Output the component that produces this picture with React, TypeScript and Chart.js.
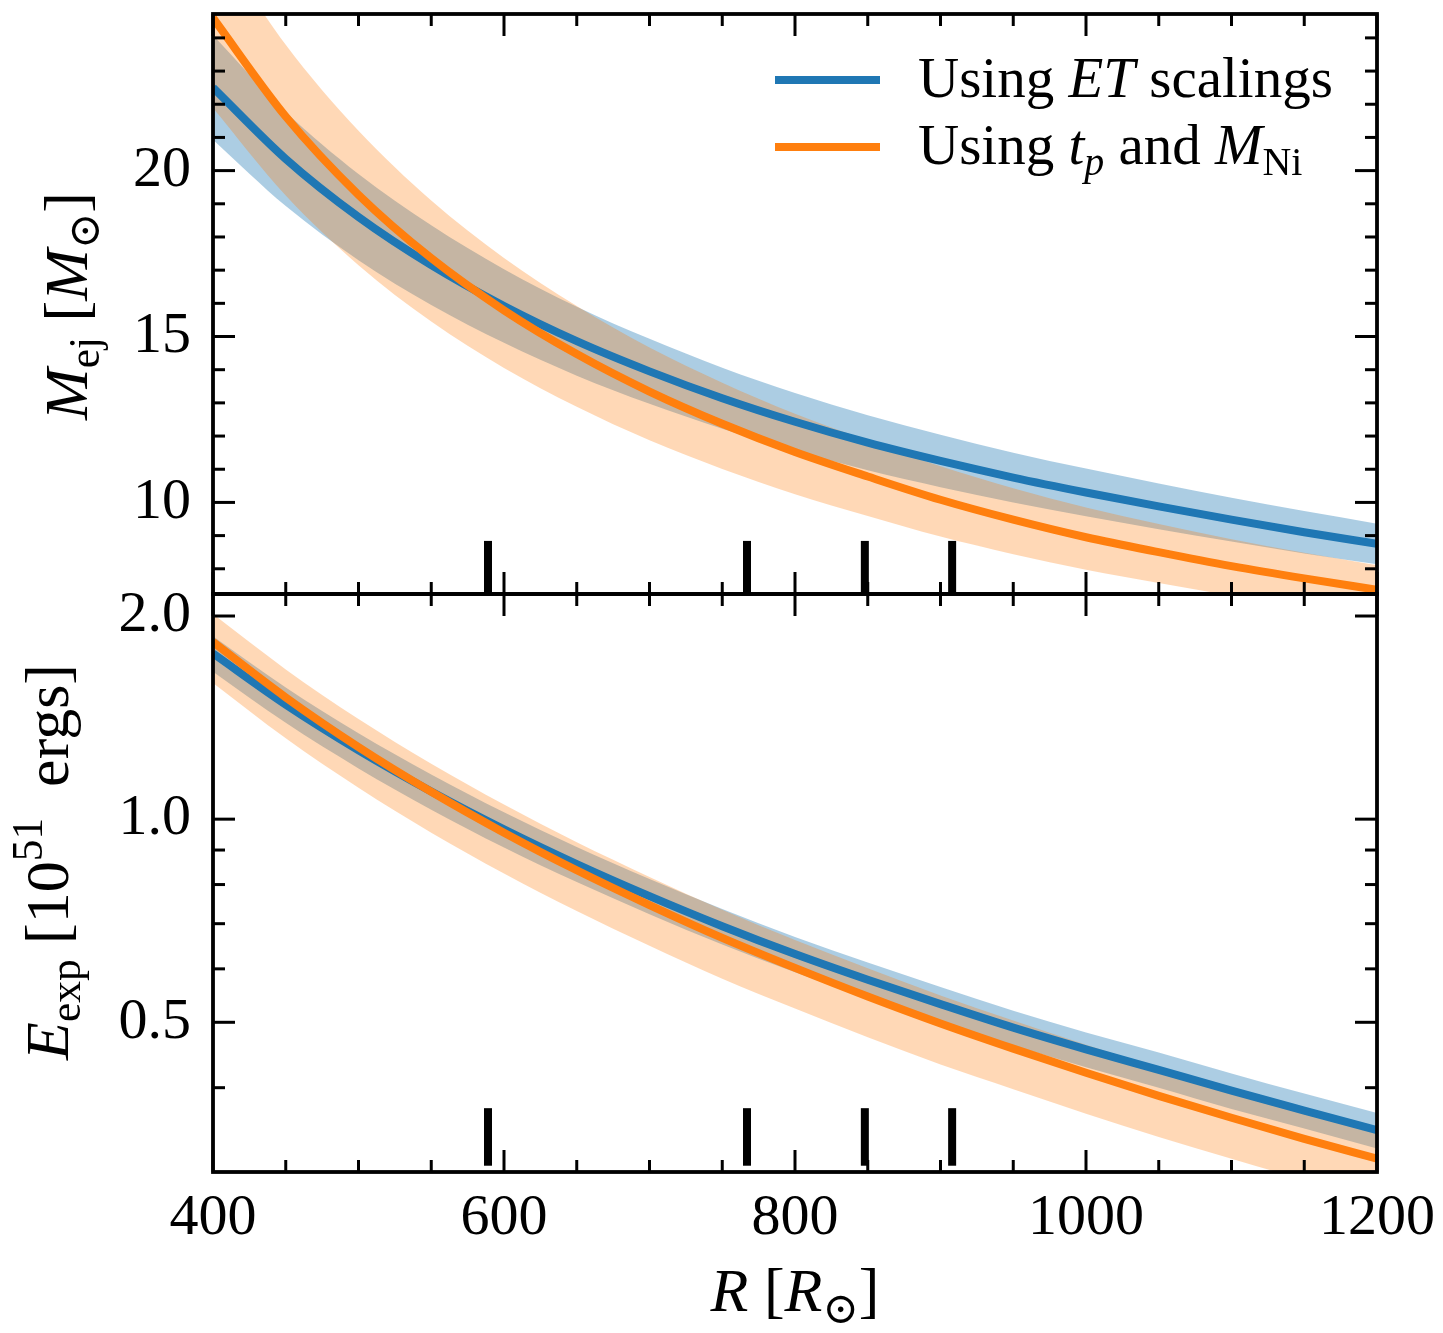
import React, { useEffect, useRef } from "react";
import { Chart, registerables } from "chart.js";

Chart.register(...registerables);

// ---------------- data ----------------
const R_GRID = [400, 450, 500, 550, 600, 650, 700, 750, 800, 850, 900, 950, 1000, 1050, 1100, 1150, 1200];

// Top panel: M_ej [M_sun]
const M_ET = [22.5, 20.35, 18.6, 17.15, 15.92, 14.86, 13.95, 13.14, 12.43, 11.8, 11.25, 10.75, 10.3, 9.88, 9.48, 9.1, 8.75];
const M_ET_HI = [24.08, 21.77, 19.9, 18.35, 17.03, 15.9, 14.93, 14.06, 13.3, 12.63, 12.04, 11.5, 11.02, 10.57, 10.14, 9.74, 9.36];
const M_ET_LO = [20.93, 18.93, 17.3, 15.95, 14.81, 13.82, 12.97, 12.22, 11.56, 10.97, 10.46, 10.0, 9.58, 9.19, 8.82, 8.46, 8.14];
const M_TP = [24.6, 21.63, 19.27, 17.36, 15.79, 14.47, 13.34, 12.37, 11.52, 10.78, 10.08, 9.48, 8.95, 8.5, 8.08, 7.71, 7.37];
const M_TP_HI = [27.06, 23.79, 21.2, 19.1, 17.37, 15.92, 14.67, 13.61, 12.67, 11.86, 11.09, 10.43, 9.85, 9.35, 8.89, 8.48, 8.11];
const M_TP_LO = [21.89, 19.25, 17.15, 15.45, 14.05, 12.88, 11.87, 11.01, 10.25, 9.59, 8.97, 8.44, 7.97, 7.57, 7.19, 6.86, 6.56];

// Bottom panel: E_exp [1e51 ergs]
const E_ET = [1.76, 1.478, 1.265, 1.099, 0.966, 0.858, 0.769, 0.694, 0.631, 0.578, 0.532, 0.491, 0.456, 0.425, 0.396, 0.37, 0.346];
const E_ET_HI = [1.866, 1.567, 1.341, 1.165, 1.024, 0.909, 0.815, 0.736, 0.669, 0.613, 0.564, 0.52, 0.483, 0.451, 0.42, 0.392, 0.367];
const E_ET_LO = [1.654, 1.389, 1.189, 1.033, 0.908, 0.807, 0.723, 0.652, 0.593, 0.543, 0.5, 0.462, 0.429, 0.4, 0.372, 0.348, 0.325];
const E_TP = [1.83, 1.515, 1.279, 1.098, 0.955, 0.84, 0.746, 0.667, 0.602, 0.546, 0.498, 0.457, 0.421, 0.389, 0.361, 0.336, 0.314];
const E_TP_HI = [2.013, 1.667, 1.407, 1.208, 1.051, 0.924, 0.821, 0.734, 0.662, 0.601, 0.548, 0.503, 0.463, 0.428, 0.397, 0.37, 0.345];
const E_TP_LO = [1.592, 1.318, 1.113, 0.955, 0.831, 0.731, 0.649, 0.58, 0.524, 0.475, 0.433, 0.398, 0.366, 0.338, 0.314, 0.292, 0.273];

// rug marks (observed radii)
const RUG_R = [589, 767, 848, 908];
const RUG_TOP_M = 8.84;
const RUG_TOP_E = 0.373;

// axes
const X_RANGE = [400, 1200];
const M_RANGE = [7.24, 24.72];
const E_RANGE = [0.3065, 2.156];
const X_MAJOR = [400, 600, 800, 1000, 1200];
const X_MINOR = [450, 500, 550, 650, 700, 750, 850, 900, 950, 1050, 1100, 1150];
const M_MAJOR = [10, 15, 20];
const M_MINOR = [8, 9, 11, 12, 13, 14, 16, 17, 18, 19, 21, 22, 23, 24];
const E_MAJOR = [0.5, 1.0, 2.0];
const E_MINOR = [0.4, 0.6, 0.7, 0.8, 0.9];

const LEGEND_LABELS = ["Using ET scalings", "Using t_p and M_Ni"];

// ---------------- layout / style ----------------
const W = 1443;
const H = 1333;
const PLOT_LEFT = 213;
const PLOT_RIGHT = 1377;
const PLOT_TOP = 14;
const PLOT_MID = 594;
const PLOT_BOTTOM = 1172;

const FONT = '"Liberation Serif", "DejaVu Serif", "Times New Roman", serif';
const TICK_FONT_SIZE = 58;
const TITLE_SIZE = 62;
const LEGEND_SIZE = 57;

const BLUE = "#1f77b4";
const ORANGE = "#ff7f0e";
const BLUE_FILL = "rgba(31,119,180,0.37)";
const ORANGE_FILL = "rgba(255,127,14,0.30)";

type Run = { t: string; it?: boolean; sub?: boolean; sup?: boolean };

function runFont(r: Run, size: number) {
  const s = r.sub || r.sup ? size * 0.7 : size;
  return `${r.it ? "italic " : ""}${s}px ${FONT}`;
}

function drawRuns(ctx: CanvasRenderingContext2D, runs: Run[], x: number, y: number, size: number, align: "center" | "left") {
  ctx.textAlign = "left";
  ctx.textBaseline = "alphabetic";
  const widths = runs.map((r) => {
    ctx.font = runFont(r, size);
    return ctx.measureText(r.t).width;
  });
  const total = widths.reduce((a, b) => a + b, 0);
  let cx = align === "center" ? x - total / 2 : x;
  runs.forEach((r, i) => {
    ctx.font = runFont(r, size);
    const dy = r.sub ? size * 0.2 : r.sup ? -size * 0.42 : 0;
    ctx.fillText(r.t, cx, y + dy);
    cx += widths[i];
  });
}

const pts = (ys: number[]) => R_GRID.map((r, i) => ({ x: r, y: ys[i] }));

function lineDs(label: string, ys: number[], color: string) {
  return {
    label,
    data: pts(ys),
    borderColor: color,
    backgroundColor: color,
    borderWidth: 8,
    pointRadius: 0,
    fill: false,
    cubicInterpolationMode: "monotone",
  };
}

function bandDs(label: string, ys: number[], color: string, fillNext: boolean) {
  return {
    label,
    data: pts(ys),
    borderColor: "rgba(0,0,0,0)",
    backgroundColor: color,
    borderWidth: 0,
    pointRadius: 0,
    fill: fillNext ? "+1" : false,
    cubicInterpolationMode: "monotone",
  };
}

function rugDs(bottom: number, top: number) {
  return RUG_R.map((r) => ({
    label: "rug",
    data: [
      { x: r, y: bottom },
      { x: r, y: top },
    ],
    borderColor: "#000",
    borderWidth: 8,
    borderCapStyle: "butt",
    pointRadius: 0,
    fill: false,
  }));
}

function framePlugin(kind: "M" | "E") {
  return {
    id: "frame" + kind,
    afterDatasetsDraw(chart: any) {
      const ctx: CanvasRenderingContext2D = chart.ctx;
      const a = chart.chartArea;
      const xs = chart.scales.x;
      const ys = chart.scales.y;
      ctx.save();
      ctx.strokeStyle = "#000";
      ctx.lineCap = "butt";
      ctx.lineWidth = 3;
      const seg = (x1: number, y1: number, x2: number, y2: number) => {
        ctx.beginPath();
        ctx.moveTo(x1, y1);
        ctx.lineTo(x2, y2);
        ctx.stroke();
      };
      const xTicks = (vals: number[], len: number) =>
        vals.forEach((v) => {
          const px = xs.getPixelForValue(v);
          seg(px, a.top, px, a.top + len);
          seg(px, a.bottom, px, a.bottom - len);
        });
      const yTicks = (vals: number[], len: number) =>
        vals.forEach((v) => {
          const py = ys.getPixelForValue(v);
          seg(a.left, py, a.left + len, py);
          seg(a.right, py, a.right - len, py);
        });
      xTicks(X_MAJOR, 22);
      xTicks(X_MINOR, 12);
      if (kind === "M") {
        yTicks(M_MAJOR, 22);
        yTicks(M_MINOR, 12);
      } else {
        yTicks(E_MAJOR, 22);
        yTicks(E_MINOR, 12);
      }
      ctx.lineWidth = 3.8;
      ctx.strokeRect(a.left, a.top, a.right - a.left, a.bottom - a.top);

      ctx.fillStyle = "#000";
      if (kind === "M") {
        // legend
        const lx0 = 775;
        const lx1 = 880;
        const rows = [
          { y: 80, color: BLUE, runs: [{ t: "Using " }, { t: "ET", it: true }, { t: " scalings" }] as Run[] },
          {
            y: 147,
            color: ORANGE,
            runs: [{ t: "Using " }, { t: "t", it: true }, { t: "p", it: true, sub: true }, { t: " and " }, { t: "M", it: true }, { t: "Ni", sub: true }] as Run[],
          },
        ];
        rows.forEach((row) => {
          ctx.strokeStyle = row.color;
          ctx.lineWidth = 8;
          seg(lx0, row.y, lx1, row.y);
          drawRuns(ctx, row.runs, 918, row.y + 17, LEGEND_SIZE, "left");
        });
        // y title
        ctx.save();
        ctx.translate(87, 306);
        ctx.rotate(-Math.PI / 2);
        drawRuns(ctx, [{ t: "M", it: true }, { t: "ej", sub: true }, { t: " [" }, { t: "M", it: true }, { t: "\u2299", sub: true }, { t: "]" }], 0, 0, TITLE_SIZE, "center");
        ctx.restore();
      } else {
        ctx.save();
        ctx.translate(68, 862);
        ctx.rotate(-Math.PI / 2);
        drawRuns(ctx, [{ t: "E", it: true }, { t: "exp", sub: true }, { t: " [10" }, { t: "51", sup: true }, { t: "  ergs]" }], 0, 0, TITLE_SIZE, "center");
        ctx.restore();
        drawRuns(ctx, [{ t: "R", it: true }, { t: " [" }, { t: "R", it: true }, { t: "\u2299", sub: true }, { t: "]" }], (PLOT_LEFT + PLOT_RIGHT) / 2, 1311, TITLE_SIZE, "center");
      }
      ctx.restore();
    },
  };
}

function makeConfig(kind: "M" | "E"): any {
  const isM = kind === "M";
  const range = isM ? M_RANGE : E_RANGE;
  const datasets = isM
    ? [
        ...rugDs(M_RANGE[0], RUG_TOP_M),
        lineDs(LEGEND_LABELS[1], M_TP, ORANGE),
        lineDs(LEGEND_LABELS[0], M_ET, BLUE),
        bandDs("tp hi", M_TP_HI, ORANGE_FILL, true),
        bandDs("tp lo", M_TP_LO, ORANGE_FILL, false),
        bandDs("et hi", M_ET_HI, BLUE_FILL, true),
        bandDs("et lo", M_ET_LO, BLUE_FILL, false),
      ]
    : [
        ...rugDs(E_RANGE[0], RUG_TOP_E),
        lineDs(LEGEND_LABELS[1], E_TP, ORANGE),
        lineDs(LEGEND_LABELS[0], E_ET, BLUE),
        bandDs("tp hi", E_TP_HI, ORANGE_FILL, true),
        bandDs("tp lo", E_TP_LO, ORANGE_FILL, false),
        bandDs("et hi", E_ET_HI, BLUE_FILL, true),
        bandDs("et lo", E_ET_LO, BLUE_FILL, false),
      ];
  const majors = isM ? M_MAJOR : E_MAJOR;
  return {
    type: "line",
    data: { datasets },
    options: {
      responsive: false,
      animation: false,
      events: [],
      layout: {
        padding: isM
          ? { left: 0, right: W - PLOT_RIGHT, top: PLOT_TOP, bottom: H - PLOT_MID }
          : { left: 0, right: W - PLOT_RIGHT, top: PLOT_MID, bottom: 0 },
      },
      scales: {
        x: {
          type: "linear",
          min: X_RANGE[0],
          max: X_RANGE[1],
          display: !isM,
          afterBuildTicks: (s: any) => {
            s.ticks = X_MAJOR.map((v) => ({ value: v }));
          },
          afterFit: (s: any) => {
            s.height = isM ? 0 : H - PLOT_BOTTOM;
            s.paddingLeft = 0;
            s.paddingRight = 0;
          },
          ticks: {
            font: { family: FONT, size: TICK_FONT_SIZE },
            color: "#000",
            padding: 12,
            maxRotation: 0,
            minRotation: 0,
            autoSkip: false,
            callback: (v: any) => String(v),
          },
          grid: { display: false, drawTicks: false },
          border: { display: false },
        },
        y: {
          type: isM ? "linear" : "logarithmic",
          min: range[0],
          max: range[1],
          afterBuildTicks: (s: any) => {
            s.ticks = majors.map((v) => ({ value: v }));
          },
          afterFit: (s: any) => {
            s.width = PLOT_LEFT;
            s.paddingTop = 0;
            s.paddingBottom = 0;
          },
          ticks: {
            font: { family: FONT, size: TICK_FONT_SIZE },
            color: "#000",
            padding: 22,
            autoSkip: false,
            callback: (v: any) => (isM ? String(v) : Number(v).toFixed(1)),
          },
          grid: { display: false, drawTicks: false },
          border: { display: false },
        },
      },
      plugins: {
        legend: { display: false },
        tooltip: { enabled: false },
        title: { display: false },
      },
      elements: { point: { radius: 0 } },
    },
    plugins: [framePlugin(kind)],
  };
}

export default function App() {
  const topRef = useRef<HTMLCanvasElement>(null);
  const botRef = useRef<HTMLCanvasElement>(null);
  useEffect(() => {
    const c1 = new Chart(topRef.current as HTMLCanvasElement, makeConfig("M"));
    const c2 = new Chart(botRef.current as HTMLCanvasElement, makeConfig("E"));
    return () => {
      c1.destroy();
      c2.destroy();
    };
  }, []);
  const cs: React.CSSProperties = { position: "absolute", left: 0, top: 0, width: W, height: H };
  return (
    <div style={{ position: "absolute", left: 0, top: 0, width: W, height: H, background: "#fff" }}>
      <canvas ref={topRef} width={W} height={H} style={cs} />
      <canvas ref={botRef} width={W} height={H} style={cs} />
    </div>
  );
}
